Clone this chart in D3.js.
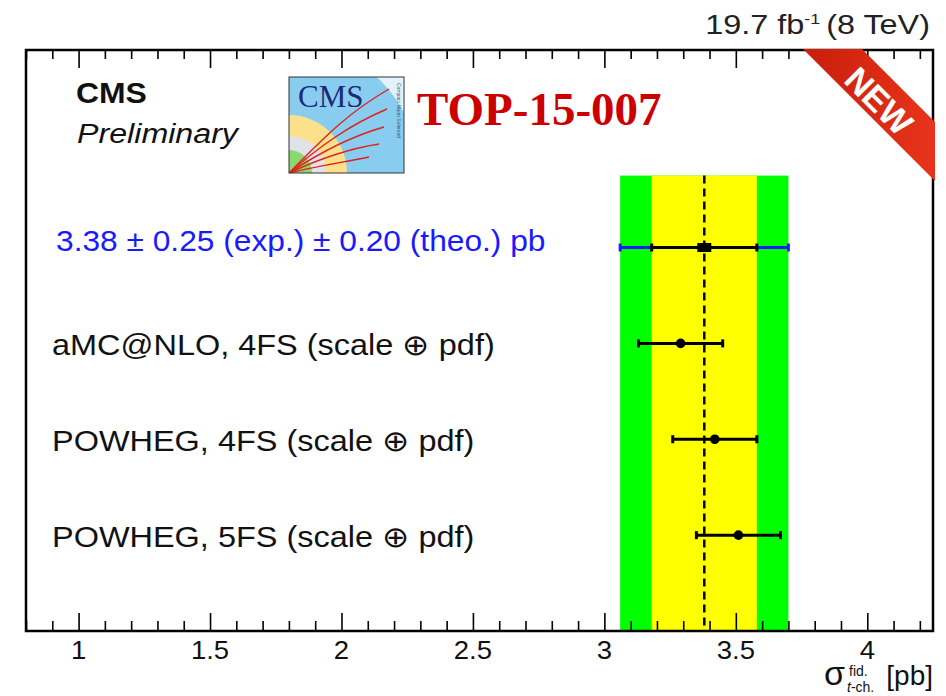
<!DOCTYPE html>
<html>
<head>
<meta charset="utf-8">
<script src="https://cdn.jsdelivr.net/npm/d3@7"></script>
<style>
  body { margin: 0; background: #fff; }
  svg { display: block; }
  text { font-family: "Liberation Sans", Arial, sans-serif; }
</style>
</head>
<body>
<svg width="946" height="696"></svg>
<script>
// measured value (yellow = theo, green = total)
const measValue = 3.38;
const measInner = 0.20;
const measTotal = 0.32;
const measLabel = "3.38 \u00b1 0.25 (exp.) \u00b1 0.20 (theo.) pb";

// predictions
const predLabels = [
    "aMC@NLO, 4FS (scale \u2295 pdf)",
    "POWHEG, 4FS (scale \u2295 pdf)",
    "POWHEG, 5FS (scale \u2295 pdf)"
];
const predValues = [3.29, 3.42, 3.51];
const predErrLo = [0.16, 0.16, 0.16];
const predErrHi = [0.16, 0.16, 0.16];

const xMajorTicks = [1, 1.5, 2, 2.5, 3, 3.5, 4];
const xTickLabels = ["1", "1.5", "2", "2.5", "3", "3.5", "4"];

let svg = d3.select("svg");
let frame = { left: 26, top: 50, right: 933, bottom: 631 };

let x = d3.scaleLinear().domain([0.8, 4.25]).range([frame.left, frame.right]);
let y = d3.scaleLinear().domain([0, 6.06]).range([frame.bottom, frame.top]);
let bandTop = 4.75;
let rowOf = i => 4 - i;   // row 0 = measurement, then predictions

// bands
svg.append("rect")
    .attr("x", x(measValue - measTotal)).attr("width", x(measValue + measTotal) - x(measValue - measTotal))
    .attr("y", y(bandTop)).attr("height", y(0) - y(bandTop))
    .style("fill", "#00ff00");
svg.append("rect")
    .attr("x", x(measValue - measInner)).attr("width", x(measValue + measInner) - x(measValue - measInner))
    .attr("y", y(bandTop)).attr("height", y(0) - y(bandTop))
    .style("fill", "#ffff00");
svg.append("line")
    .attr("x1", x(measValue)).attr("x2", x(measValue))
    .attr("y1", y(bandTop)).attr("y2", y(0))
    .style("stroke", "#000").style("stroke-width", 2.5).style("stroke-dasharray", "8,5");

// axes with inward ticks
let minorTicks = d3.range(0.8, 4.25, 0.1).filter(v => !xMajorTicks.some(m => Math.abs(m - v) < 1e-6));

function drawTicks(values, len, top) {
    let ax = (top ? d3.axisTop(x) : d3.axisBottom(x))
        .tickValues(values).tickSize(-len).tickFormat("");
    let g = svg.append("g")
        .attr("transform", "translate(0," + (top ? frame.top : frame.bottom) + ")")
        .call(ax);
    g.select(".domain").remove();
    g.selectAll(".tick line").style("stroke", "#000").style("stroke-width", 1.6);
}
drawTicks(minorTicks, 10, false);
drawTicks(xMajorTicks, 18, false);
drawTicks(minorTicks, 9, true);
drawTicks(xMajorTicks, 18, true);

function txt(px, py, s, size, opts) {
    opts = opts || {};
    let t = svg.append("text")
        .attr("transform", "translate(" + px + "," + py + ") scale(" + (opts.sx || 1) + ",1)")
        .attr("text-anchor", opts.anchor || "start")
        .style("font-size", size + "px")
        .style("fill", opts.fill || "#000")
        .text(s);
    if (opts.weight) t.style("font-weight", opts.weight);
    if (opts.style) t.style("font-style", opts.style);
    if (opts.family) t.style("font-family", opts.family);
    return t;
}

// tick labels
svg.selectAll(".xlab")
    .data(xMajorTicks)
    .enter()
    .append("text")
        .attr("class", "xlab")
        .attr("transform", d => "translate(" + x(d) + ",659) scale(1.1,1)")
        .attr("text-anchor", "middle")
        .style("font-size", "25px")
        .style("fill", "#111")
        .text((d, i) => xTickLabels[i]);

// axis title
txt(824, 685, "\u03c3", 34, { fill: "#111" });
txt(849, 676, "fid.", 14, { fill: "#111" });
let sub = txt(847, 692, "", 14, { fill: "#111" });
sub.append("tspan").style("font-style", "italic").text("t");
sub.append("tspan").text("-ch.");
txt(933, 685, "[pb]", 28, { anchor: "end", fill: "#111" });

// measurement: blue total, black inner
let my = y(rowOf(0));
svg.append("line")
    .attr("x1", x(measValue - measTotal)).attr("x2", x(measValue + measTotal))
    .attr("y1", my).attr("y2", my)
    .style("stroke", "#1a1aff").style("stroke-width", 3);
[measValue - measTotal, measValue + measTotal].forEach(v => {
    svg.append("line").attr("x1", x(v)).attr("x2", x(v))
        .attr("y1", my - 4).attr("y2", my + 4)
        .style("stroke", "#1a1aff").style("stroke-width", 3);
});
svg.append("line")
    .attr("x1", x(measValue - measInner)).attr("x2", x(measValue + measInner))
    .attr("y1", my).attr("y2", my)
    .style("stroke", "#000").style("stroke-width", 3);
[measValue - measInner, measValue + measInner].forEach(v => {
    svg.append("line").attr("x1", x(v)).attr("x2", x(v))
        .attr("y1", my - 4).attr("y2", my + 4)
        .style("stroke", "#000").style("stroke-width", 3);
});
svg.append("rect")
    .attr("x", x(measValue) - 7).attr("y", my - 4.5)
    .attr("width", 14).attr("height", 9)
    .style("fill", "#000");
txt(56, my + 3, measLabel, 30, { fill: "#1a1aff", sx: 1.057 });

// predictions
predLabels.forEach((lab, i) => {
    let py = y(rowOf(i + 1));
    let lo = predValues[i] - predErrLo[i], hi = predValues[i] + predErrHi[i];
    svg.append("line")
        .attr("x1", x(lo)).attr("x2", x(hi))
        .attr("y1", py).attr("y2", py)
        .style("stroke", "#000").style("stroke-width", 3);
    [lo, hi].forEach(v => {
        svg.append("line").attr("x1", x(v)).attr("x2", x(v))
            .attr("y1", py - 4).attr("y2", py + 4)
            .style("stroke", "#000").style("stroke-width", 3);
    });
    svg.append("circle")
        .attr("cx", x(predValues[i])).attr("cy", py).attr("r", 4.8)
        .style("fill", "#000");
    txt(52, py + 11.5, lab, 29, { fill: "#111", sx: 1.12 });
});

// frame
svg.append("rect")
    .attr("x", frame.left).attr("y", frame.top)
    .attr("width", frame.right - frame.left).attr("height", frame.bottom - frame.top)
    .style("fill", "none").style("stroke", "#000").style("stroke-width", 2.5);

// CMS Preliminary
txt(76, 103, "CMS", 29, { weight: "bold", fill: "#111", sx: 1.1 });
txt(77, 143, "Preliminary", 28, { style: "italic", fill: "#111", sx: 1.15 });

// lumi
let lumi = svg.append("text")
    .attr("transform", "translate(930,34) scale(1.2,1)")
    .attr("text-anchor", "end")
    .style("font-size", "27px").style("fill", "#222");
lumi.append("tspan").text("19.7 fb");
lumi.append("tspan").attr("dy", -10).style("font-size", "15px").text("-1");
lumi.append("tspan").attr("dy", 10).attr("dx", 5).text("(8 TeV)");

// CMS logo
let logo = svg.append("g").attr("transform", "translate(289,77)");
let lw = 115, lh = 96;
logo.append("clipPath").attr("id", "logoclip")
    .append("rect").attr("width", lw).attr("height", lh);
let lg = logo.append("g").attr("clip-path", "url(#logoclip)");
lg.append("rect").attr("width", lw).attr("height", lh).style("fill", "#e4f3fb");
[[130, "#88cdf0"], [58, "#fde08c"], [37, "#dfe3e8"], [23, "#8ad870"]].forEach(d => {
    lg.append("circle").attr("cx", 0).attr("cy", lh).attr("r", d[0]).style("fill", d[1]);
});
let curves = [
    "M0,96 C30,66 55,38 100,12",
    "M0,96 C30,70 60,48 98,32",
    "M0,96 C30,76 60,60 95,50",
    "M0,96 C30,82 58,72 90,67",
    "M0,96 C25,90 50,86 80,80"
];
curves.forEach(c => {
    lg.append("path").attr("d", c)
        .style("fill", "none").style("stroke", "#e0201a").style("stroke-width", 1.4);
});
lg.append("text").attr("x", 9).attr("y", 30)
    .style("font-family", "'Liberation Serif', serif").style("font-size", "31px")
    .style("fill", "#1c2a78").text("CMS");
lg.append("text").attr("transform", "translate(108,6) rotate(90)")
    .style("font-size", "5px").style("fill", "#33557a").text("Compact Muon Solenoid");
logo.append("rect").attr("width", lw).attr("height", lh)
    .style("fill", "none").style("stroke", "#333").style("stroke-width", 1);

// TOP-15-007
txt(417, 125, "TOP-15-007", 47, { weight: "bold", fill: "#cc0000", family: "'Liberation Serif', serif" });

// NEW ribbon
let defs = svg.append("defs");
let grad = defs.append("linearGradient").attr("id", "ribbon")
    .attr("x1", "0").attr("y1", "0").attr("x2", "1").attr("y2", "0");
grad.append("stop").attr("offset", "0").attr("stop-color", "#c81e0c");
grad.append("stop").attr("offset", "1").attr("stop-color", "#e8341c");
svg.append("polygon")
    .attr("points", "803,49 862,49 935,122 935,181")
    .style("fill", "url(#ribbon)");
svg.append("text")
    .attr("transform", "translate(879,101) rotate(45)")
    .attr("text-anchor", "middle")
    .attr("dominant-baseline", "central")
    .style("font-size", "34px").style("font-weight", "bold").style("fill", "#fff")
    .text("NEW");
</script>
</body>
</html>
